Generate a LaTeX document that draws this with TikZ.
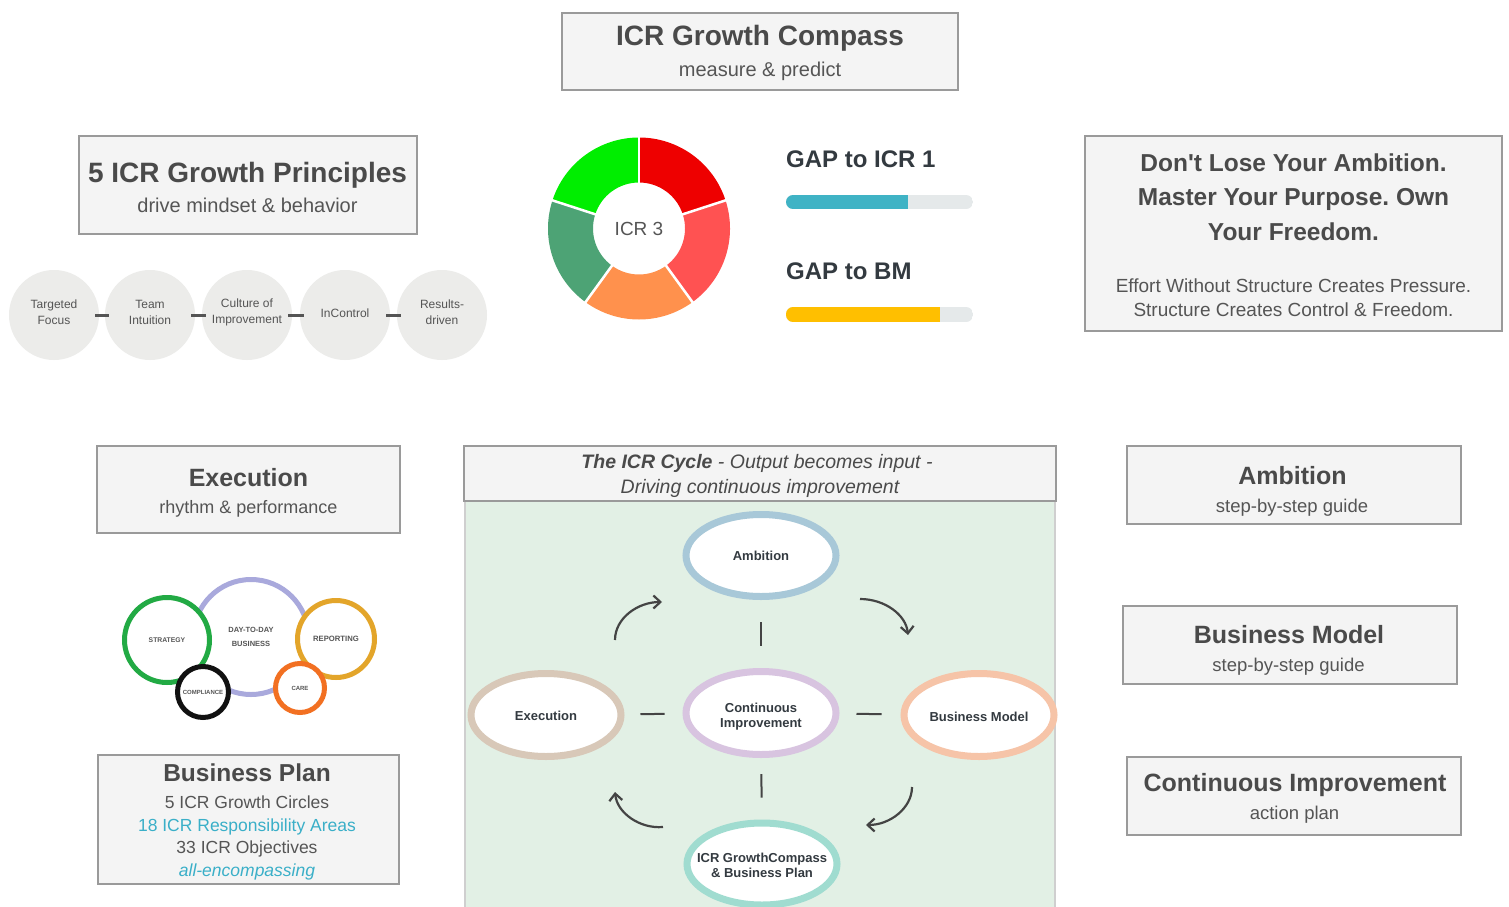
\documentclass[tikz,border=0pt]{standalone}
\usepackage{fontspec}
\setmainfont{Liberation Sans}
\usetikzlibrary{shapes.geometric,arrows.meta}
\frenchspacing
\definecolor{boxfill}{HTML}{F4F4F4}
\definecolor{boxdraw}{HTML}{9A9A9A}
\definecolor{txtdark}{HTML}{4A4A4A}
\definecolor{txtmid}{HTML}{555555}
\definecolor{gapdark}{HTML}{333A40}
\definecolor{pfill}{HTML}{ECECEA}
\definecolor{teal}{HTML}{3AAFC8}
\definecolor{panel}{HTML}{E2F0E5}
\definecolor{panelline}{HTML}{CFCFCF}
\definecolor{dRed}{HTML}{EE0000}
\definecolor{dLRed}{HTML}{FF5252}
\definecolor{dOrange}{HTML}{FF914D}
\definecolor{dDGreen}{HTML}{4DA375}
\definecolor{dGreen}{HTML}{00EE00}
\definecolor{barbg}{HTML}{E5E9EA}
\definecolor{barblue}{HTML}{3FB3C5}
\definecolor{baryellow}{HTML}{FFBF00}
\definecolor{cGreen}{HTML}{22AA44}
\definecolor{cLav}{HTML}{A9A9DC}
\definecolor{cGold}{HTML}{E3A52A}
\definecolor{cBlack}{HTML}{111111}
\definecolor{cOrange}{HTML}{F27022}
\definecolor{eAmb}{HTML}{A8C8D8}
\definecolor{eCI}{HTML}{D8C4E0}
\definecolor{eEx}{HTML}{D8C8B8}
\definecolor{eBM}{HTML}{F6C4A8}
\definecolor{eGC}{HTML}{A0DCD0}
\definecolor{arrgray}{HTML}{444444}
\newcommand{\setfs}[1]{\fontsize{#1}{#1}\selectfont}
\begin{document}
\begin{tikzpicture}[x=1pt,y=-1pt,
  box/.style={draw=boxdraw, fill=boxfill, line width=2pt, inner sep=0pt, rectangle},
  t/.style={anchor=base, inner sep=0pt, text=txtdark},
  ttl/.style={t, font=\bfseries\setfs{#1}},
  sub/.style={t, text=txtmid, font=\setfs{#1}},
  pcirc/.style={circle, fill=pfill, minimum size=90pt, inner sep=0pt},
  plab/.style={inner sep=0pt, align=center, font=\fontsize{12}{16}\selectfont, text=txtmid},
  pdash/.style={draw=txtmid, line width=3pt, shorten <=-4pt, shorten >=-4pt},
  ring/.style={circle, draw=#1, line width=5pt, fill=white, inner sep=0pt, align=center,
     text=txtmid, font=\bfseries\fontsize{7}{11}\selectfont},
  cyc/.style={ellipse, draw=#1, line width=7pt, fill=white, minimum width=150pt,
     minimum height=83pt, inner sep=0pt},
  clab/.style={inner sep=0pt, align=center, text=gapdark,
     font=\bfseries\fontsize{13}{15}\selectfont},
  cdash/.style={draw=arrgray, line width=2pt},
  carr/.style={draw=arrgray, line width=2.2pt, -{Straight Barb[length=7pt,width=13pt,line width=2.2pt]}},
]
\useasboundingbox (0,0) rectangle (1509,907);
\fill[white] (0,0) rectangle (1509,907);

% ---- ICR Growth Compass box
\node[box, minimum width=396pt, minimum height=77pt] (gcbox) at (760,51.5) {};
\node[ttl=28] (gct) at (760,46) {ICR Growth Compass};
\node[sub=20] (gcs) at (760,77) {measure \& predict};

% ---- 5 ICR Growth Principles
\node[box, minimum width=338pt, minimum height=98pt] (prbox) at (248,185) {};
\node[ttl=28] (prt) at (247.5,182) {5 ICR Growth Principles};
\node[sub=20] (prs) at (247.5,212) {drive mindset \& behavior};

\node[pcirc] (p1) at (54,315) {};
\node[pcirc] (p2) at (150,315) {};
\node[pcirc] (p3) at (247,315) {};
\node[pcirc] (p4) at (345,315) {};
\node[pcirc] (p5) at (442,315) {};
\node[plab] (p1t) at (54,312) {Targeted\\Focus};
\node[plab] (p2t) at (150,312) {Team\\Intuition};
\node[plab] (p3t) at (247,312) {Culture of\\Improvement};
\node[plab] (p4t) at (345,313) {InControl};
\node[plab] (p5t) at (442,312) {Results-\\driven};
\draw[pdash] (p1) -- (p2);
\draw[pdash] (p2) -- (p3);
\draw[pdash] (p3) -- (p4);
\draw[pdash] (p4) -- (p5);

% ---- Donut
\begin{scope}[shift={(639,228.5)}, yscale=-1]
  \fill[dRed] (90:91) arc[start angle=90, end angle=18, radius=91] -- (18:46) arc[start angle=18, end angle=90, radius=46] -- cycle;
  \fill[dLRed] (18:91) arc[start angle=18, end angle=-54, radius=91] -- (-54:46) arc[start angle=-54, end angle=18, radius=46] -- cycle;
  \fill[dOrange] (-54:91) arc[start angle=-54, end angle=-126, radius=91] -- (-126:46) arc[start angle=-126, end angle=-54, radius=46] -- cycle;
  \fill[dDGreen] (-126:91) arc[start angle=-126, end angle=-198, radius=91] -- (-198:46) arc[start angle=-198, end angle=-126, radius=46] -- cycle;
  \fill[dGreen] (-198:91) arc[start angle=-198, end angle=-270, radius=91] -- (-270:46) arc[start angle=-270, end angle=-198, radius=46] -- cycle;
  \foreach \a in {90,18,-54,-126,-198} \draw[white, line width=2.5pt] (\a:44) -- (\a:93);
\end{scope}
\node[sub=19, text=txtmid] (icr3) at (639,235) {ICR 3};

% ---- GAP bars
\node[t, anchor=base west, text=gapdark, font=\bfseries\setfs{24}] (gap1) at (786,167) {GAP to ICR 1};
\node[t, anchor=base west, text=gapdark, font=\bfseries\setfs{24}] (gap2) at (786,279) {GAP to BM};
\begin{scope}
  \clip[rounded corners=7pt] (786,195) rectangle (973,209);
  \fill[barbg] (786,195) rectangle (973,209);
  \fill[barblue] (786,195) rectangle (908,209);
\end{scope}
\begin{scope}
  \clip[rounded corners=7pt] (786,307) rectangle (973,322);
  \fill[barbg] (786,307) rectangle (973,322);
  \fill[baryellow] (786,307) rectangle (940,322);
\end{scope}

% ---- Quote box
\node[box, minimum width=417pt, minimum height=195pt] (qbox) at (1293.5,233.5) {};
\node[ttl=24.5] (q1) at (1293.5,171) {Don\textquotesingle t Lose Your Ambition.};
\node[ttl=24.5] (q2) at (1293.5,205) {Master Your Purpose. Own};
\node[ttl=24.5] (q3) at (1293.5,240) {Your Freedom.};
\node[sub=19] (q4) at (1293.5,292) {Effort Without Structure Creates Pressure.};
\node[sub=19] (q5) at (1293.5,316) {Structure Creates Control \& Freedom.};

% ---- Execution box
\node[box, minimum width=303pt, minimum height=87pt] (exbox) at (248.5,489.5) {};
\node[ttl=25] (ext) at (248.5,486) {Execution};
\node[sub=18] (exs) at (248.5,513) {rhythm \& performance};

% ---- Circle graphic
\node[ring=cLav, minimum size=115pt, font=\bfseries\fontsize{7.5}{12}\selectfont] (dtd) at (251,637) {\raisebox{2pt}{DAY-TO-DAY}\\BUSINESS};
\node[ring=cGreen, minimum size=85pt, font=\bfseries\setfs{6.8}] (strat) at (167,640) {STRATEGY};
\node[ring=cGold, minimum size=77pt, font=\bfseries\setfs{7.7}] (rep) at (336,639) {REPORTING};
\node[ring=cBlack, minimum size=51pt, font=\bfseries\setfs{6}] (comp) at (203,692) {COMPLIANCE};
\node[ring=cOrange, minimum size=49pt, font=\bfseries\setfs{6}] (care) at (300,688) {CARE};

% ---- Business Plan box
\node[box, minimum width=301pt, minimum height=129pt] (bpbox) at (248.5,819.5) {};
\node[ttl=24.5] (bpt) at (247,781) {Business Plan};
\node[sub=17.5] (bp1) at (247,808) {5 ICR Growth Circles};
\node[sub=17.5, text=teal] (bp2) at (247,831) {18 ICR Responsibility Areas};
\node[sub=17.5] (bp3) at (247,853) {33 ICR Objectives};
\node[sub=17.5, text=teal, font=\itshape\setfs{17.5}] (bp4) at (247,876) {all-encompassing};

% ---- ICR Cycle panel
\fill[panel] (465,501) rectangle (1055,915);
\draw[panelline, line width=2pt] (465,501) -- (465,915);
\draw[panelline, line width=2pt] (1055,501) -- (1055,915);
\node[box, line width=2.5pt, minimum width=592pt, minimum height=55pt] (cychdr) at (760,473.5) {};
\node[t, font=\itshape\setfs{19.5}] (cyc1) at (757,468) {\textbf{The ICR Cycle} - Output becomes input -};
\node[t, font=\itshape\setfs{19.5}] (cyc2) at (760,493) {Driving continuous improvement};

\node[cyc=eAmb, minimum height=82pt] (amb) at (761,555.5) {};
\node[cyc=eCI] (ci) at (761,713) {};
\node[cyc=eEx] (ex) at (546,715) {};
\node[cyc=eBM] (bm) at (979,715) {};
\node[cyc=eGC, minimum height=82pt] (gc) at (762,864) {};
\node[clab] (ambt2) at (761,555.5) {Ambition};
\node[clab] (cit2) at (761,717) {Continuous\\Improvement};
\node[clab] (ext2) at (546,716) {Execution};
\node[clab] (bmt2) at (979,717) {Business Model};
\node[clab] (gct2) at (762,865.5) {ICR GrowthCompass\\\& Business Plan};

\draw[cdash, shorten <=22pt, shorten >=22pt] (amb) -- (ci);
\draw[cdash, shorten <=16pt, shorten >=22pt] (ci) -- (gc);
\draw[cdash, shorten <=16pt, shorten >=18pt] (ex) -- (ci);
\draw[cdash, shorten <=17pt, shorten >=19pt] (ci) -- (bm);

\coordinate (tlS) at (615,640);  \coordinate (tlE) at (662,602);
\coordinate (trS) at (860,599);  \coordinate (trE) at (908,635);
\coordinate (brS) at (912,787);  \coordinate (brE) at (866,825);
\coordinate (blS) at (663,827);  \coordinate (blE) at (615,792);
\draw[carr] (tlS) .. controls (615,618) and (638,602) .. (tlE);
\draw[carr] (trS) .. controls (885,599) and (906,615) .. (trE);
\draw[carr] (brS) .. controls (912,808) and (890,825) .. (brE);
\draw[carr] (blS) .. controls (640,829) and (617,813) .. (blE);

% ---- Right column boxes
\node[box, minimum width=334pt, minimum height=78pt] (ambbox) at (1294,485) {};
\node[ttl=25] (ambt) at (1292.5,484) {Ambition};
\node[sub=18.5] (ambs) at (1292,512) {step-by-step guide};

\node[box, minimum width=334pt, minimum height=78pt] (bmbox) at (1290,645) {};
\node[ttl=25] (bmt) at (1289,643) {Business Model};
\node[sub=18.5] (bms) at (1288.5,671) {step-by-step guide};

\node[box, minimum width=334pt, minimum height=78pt] (cibox) at (1294,796) {};
\node[ttl=25] (cit) at (1295,791) {Continuous Improvement};
\node[sub=18.5] (cis) at (1294.5,819) {action plan};
\end{tikzpicture}
\end{document}
